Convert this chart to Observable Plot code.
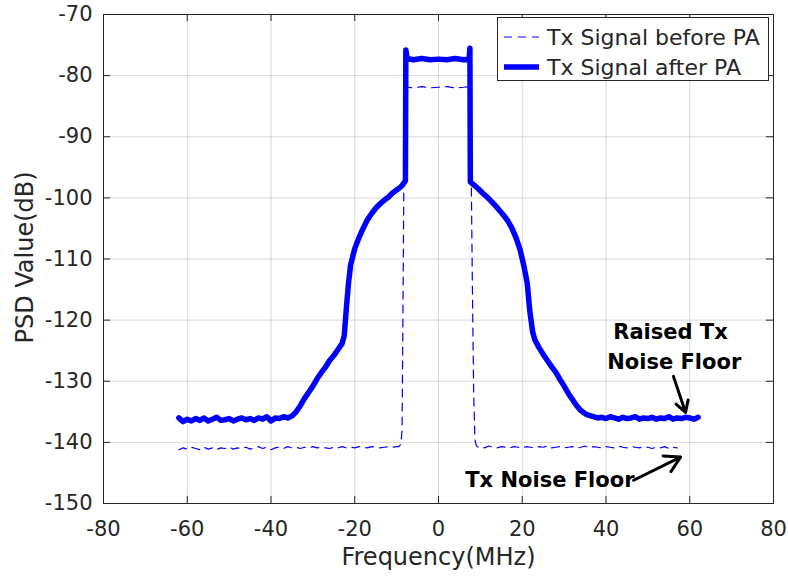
<!DOCTYPE html>
<html>
<head>
<meta charset="utf-8">
<script src="https://cdn.jsdelivr.net/npm/d3@7"></script>
<script src="https://cdn.jsdelivr.net/npm/@observablehq/plot@0.6"></script>
<style>
  html, body { margin: 0; padding: 0; background: #fff; }
  #wrap { position: relative; width: 788px; height: 578px; font-family: "DejaVu Sans", sans-serif; }
  #legend { position: absolute; left: 497px; top: 17px; width: 272px; height: 64px; border: 1px solid #262626; background: #fff; box-sizing: border-box; }
  .row { position: absolute; left: 0; height: 30px; display: flex; align-items: center; }
  .row span { font-size: 22px; color: #262626; white-space: nowrap; }
</style>
</head>
<body>
<div id="wrap"></div>
<script>
// Tx signal after PA (solid, thick)
const afterFreq = [-62,-61,-60,-59,-58,-57,-56,-55,-54,-53,-52,-51,-50,-49,-48,-47,-46,-45,-44,-43,-42,-41,-40,-39,-38,-37,-36,-35,-34,-33,-32,-31,-30,-29,-28,-27,-26,-25,-24,-23,-22.5,-22,-21.5,-21,-20,-19,-18,-17,-16,-15,-14,-13,-12,-11,-10,-9,-8.3,-7.9,-7.8,-7.5,-6,-4,-2,0,2,4,6,7.3,7.5,7.6,8.5,9.5,10.5,11.5,12.5,13.5,14.5,15.5,16.5,17.5,18.5,19.5,20.5,21.2,21.8,22.5,23,24,25,26,27,28,29,30,31,32,33,34,35,36,37,38,39,40,41,42,43,44,45,46,47,48,49,50,51,52,53,54,55,56,57,58,59,60,61,62];
const afterPSD = [-136.0,-136.6,-136.2,-136.5,-136.1,-136.4,-136.0,-136.5,-136.2,-135.9,-136.4,-136.3,-136.1,-136.5,-136.2,-136.0,-136.3,-136.1,-136.4,-136.0,-136.2,-135.8,-136.5,-136.0,-136.1,-135.8,-136.0,-135.7,-135.0,-134.0,-132.8,-131.8,-130.8,-129.6,-128.6,-127.7,-126.6,-125.8,-124.8,-123.8,-122.5,-118.0,-114.0,-111.0,-108.3,-106.5,-105.0,-103.6,-102.6,-101.7,-101.0,-100.4,-99.9,-99.2,-98.7,-98.2,-97.6,-97.2,-75.8,-77.2,-77.4,-77.2,-77.4,-77.3,-77.4,-77.2,-77.4,-77.3,-75.5,-97.4,-97.9,-98.5,-99.2,-99.8,-100.5,-101.2,-102.0,-102.8,-103.7,-104.9,-106.5,-108.5,-111.5,-114.0,-118.5,-122.0,-123.2,-124.5,-125.6,-126.6,-127.6,-128.5,-129.7,-130.8,-132.0,-133.0,-134.0,-134.8,-135.3,-135.6,-135.8,-136.0,-135.9,-136.1,-135.8,-136.0,-136.2,-135.9,-136.1,-136.0,-135.8,-136.2,-136.0,-136.1,-135.9,-136.2,-136.0,-136.1,-135.8,-136.2,-136.0,-136.1,-135.9,-136.0,-136.2,-135.9,-136.1];

// Tx signal before PA (dashed, thin)
const beforeFreq = [-62,-61,-60,-59,-58,-57,-56,-55,-54,-53,-52,-51,-50,-49,-48,-47,-46,-45,-44,-43,-42,-41,-40,-39,-38,-37,-36,-35,-34,-33,-32,-31,-30,-29,-28,-27,-26,-25,-24,-23,-22,-21,-20,-19,-18,-17,-16,-15,-14,-13,-12,-11,-10,-9.5,-9,-8.7,-8.5,-8.3,-8.1,-7.9,-6,-4,-2,0,2,4,6,7.4,7.6,7.8,8.1,8.4,8.7,9,9.5,10,11,12,13,14,15,16,17,18,19,20,21,22,23,24,25,26,27,28,29,30,31,32,33,34,35,36,37,38,39,40,41,42,43,44,45,46,47,48,49,50,51,52,53,54,55,56,57,58,59,60,61,62];
const beforePSD = [-141.2,-140.9,-141.1,-140.8,-141.0,-141.2,-140.8,-141.1,-140.9,-141.2,-140.9,-141.0,-140.8,-141.1,-140.9,-141.0,-140.8,-141.1,-140.9,-140.7,-141.0,-140.8,-141.2,-140.9,-140.8,-141.0,-140.7,-140.9,-140.8,-141.0,-140.8,-140.9,-140.7,-140.9,-140.8,-140.9,-141.0,-140.8,-140.9,-140.7,-140.9,-140.8,-140.9,-140.7,-140.8,-140.9,-140.7,-140.8,-140.9,-140.8,-140.7,-140.8,-140.7,-140.7,-140.3,-138.0,-120.0,-100.0,-85.0,-81.9,-82.0,-81.8,-82.0,-81.9,-81.8,-82.0,-81.9,-81.8,-82.0,-95.0,-115.0,-132.0,-139.5,-140.5,-140.8,-140.7,-140.9,-140.6,-140.8,-140.9,-140.7,-140.8,-140.9,-140.7,-140.8,-140.9,-140.7,-140.8,-140.9,-140.7,-140.8,-140.6,-140.9,-140.8,-140.7,-140.9,-140.8,-140.7,-140.9,-140.8,-140.6,-140.9,-140.7,-140.8,-140.9,-140.7,-140.8,-140.9,-140.6,-140.8,-140.9,-140.7,-140.8,-140.9,-140.7,-140.8,-141.0,-140.8,-140.9,-140.7,-141.0,-140.8,-140.9];

const xTicks = [-80,-60,-40,-20,0,20,40,60,80];
const yTicks = [-150,-140,-130,-120,-110,-100,-90,-80,-70];
const seriesNames = ["Tx Signal before PA", "Tx Signal after PA"];

const after = afterFreq.map((f, i) => ({f, p: afterPSD[i]}));
const before = beforeFreq.map((f, i) => ({f, p: beforePSD[i]}));

const ink = "#262626";
const blue = "#0000ff";
const font = "DejaVu Sans, sans-serif";
const fmt = d => String(d);

const chart = Plot.plot({
  width: 788,
  height: 578,
  marginLeft: 103,
  marginRight: 15,
  marginTop: 14,
  marginBottom: 75,
  style: {fontFamily: font, background: "#fff", color: ink, overflow: "visible"},
  x: {domain: [-80, 80], ticks: xTicks},
  y: {domain: [-150, -70], ticks: yTicks},
  marks: [
    Plot.gridX(xTicks, {stroke: "#000", strokeOpacity: 0.15, strokeWidth: 1}),
    Plot.gridY(yTicks, {stroke: "#000", strokeOpacity: 0.15, strokeWidth: 1}),
    Plot.line(before, {x: "f", y: "p", stroke: blue, strokeWidth: 1.2, strokeDasharray: "8,6"}),
    Plot.line(after, {x: "f", y: "p", stroke: blue, strokeWidth: 5.5, strokeLinejoin: "round"}),
    Plot.axisX({anchor: "bottom", ticks: xTicks, tickFormat: fmt, tickSize: 0, tickPadding: 18, fontSize: 21, label: null, fill: ink}),
    Plot.axisY({anchor: "left", ticks: yTicks, tickFormat: fmt, tickSize: 0, tickPadding: 11, fontSize: 21, label: null, fill: ink}),
    Plot.ruleX(xTicks, {x: d => d, y1: -150, y2: -148.85, stroke: ink}),
    Plot.ruleX(xTicks, {x: d => d, y1: -70, y2: -71.15, stroke: ink}),
    Plot.ruleY(yTicks, {y: d => d, x1: -80, x2: -78.3, stroke: ink}),
    Plot.ruleY(yTicks, {y: d => d, x1: 80, x2: 78.3, stroke: ink}),
    Plot.frame({stroke: ink, strokeWidth: 1}),
    Plot.text(["Frequency(MHz)"], {frameAnchor: "bottom", lineAnchor: "middle", textAnchor: "middle", dy: 54, fontSize: 24, fill: ink}),
    Plot.text(["PSD Value(dB)"], {frameAnchor: "left", lineAnchor: "middle", textAnchor: "middle", dx: -78, dy: -1.5, rotate: -90, fontSize: 24, fill: ink}),
    Plot.text(["Raised Tx"], {x: 55.4, y: -122, fontSize: 21, fontWeight: "bold", fill: "#000"}),
    Plot.text(["Noise Floor"], {x: 56.3, y: -126.9, fontSize: 21, fontWeight: "bold", fill: "#000"}),
    Plot.text(["Tx Noise Floor"], {x: 26.6, y: -146.2, fontSize: 21, fontWeight: "bold", fill: "#000"}),
    Plot.arrow([{x1: 56.1, y1: -129.2, x2: 59, y2: -135.1}], {x1: "x1", y1: "y1", x2: "x2", y2: "y2", stroke: "#000", strokeWidth: 3, headLength: 10}),
    Plot.arrow([{x1: 46.6, y1: -146.2, x2: 57.8, y2: -142.4}], {x1: "x1", y1: "y1", x2: "x2", y2: "y2", stroke: "#000", strokeWidth: 3, headLength: 10})
  ]
});

const wrap = document.getElementById("wrap");
wrap.appendChild(chart);

const legend = document.createElement("div");
legend.id = "legend";
seriesNames.forEach((name, i) => {
  const row = document.createElement("div");
  row.className = "row";
  row.style.top = (i === 0 ? 4 : 34) + "px";
  const svg = `<svg width="44" height="10" style="margin-left:5px"><line x1="1" y1="5" x2="36" y2="5" stroke="${blue}" stroke-width="${i === 0 ? 1.2 : 5.5}" ${i === 0 ? 'stroke-dasharray="8,6"' : ''}/></svg>`;
  row.innerHTML = svg + `<span>${name}</span>`;
  legend.appendChild(row);
});
wrap.appendChild(legend);
</script>
</body>
</html>
